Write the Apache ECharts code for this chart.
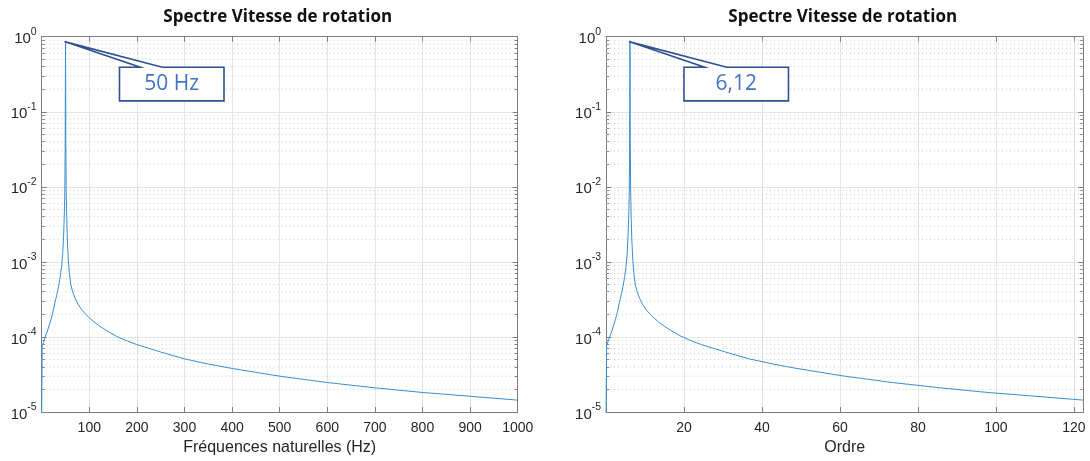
<!DOCTYPE html>
<html><head><meta charset="utf-8">
<script src="https://cdn.jsdelivr.net/npm/echarts@6/dist/echarts.min.js"></script>
<style>html,body{margin:0;padding:0;background:#fff}#c{width:1090px;height:461px}</style>
</head><body><div id="c"></div><script>
// ---- data ----
const freqHz = [0, 1, 4, 8, 12, 16, 20, 24, 28, 32, 36, 39, 42, 44, 46, 47.5, 48.5, 49.3, 50, 50.7, 51.5, 52.5, 54, 56, 58, 61, 65, 70, 76, 84, 92, 100, 110, 122, 135, 157, 180, 200, 250, 300, 350, 400, 500, 600, 700, 800, 900, 1000];
const orders = [0, 0.12, 0.49, 0.98, 1.47, 1.96, 2.45, 2.94, 3.43, 3.92, 4.41, 4.77, 5.14, 5.39, 5.63, 5.81, 5.94, 6.03, 6.12, 6.21, 6.30, 6.43, 6.61, 6.85, 7.10, 7.47, 7.96, 8.57, 9.30, 10.28, 11.26, 12.24, 13.46, 14.93, 16.52, 19.22, 22.03, 24.48, 30.60, 36.72, 42.84, 48.96, 61.20, 73.44, 85.68, 97.92, 110.16, 122.40];
const amplitude = [1e-5, 7.6e-5, 8.6e-5, 1.03e-4, 1.2e-4, 1.45e-4, 1.75e-4, 2.2e-4, 2.9e-4, 3.7e-4, 4.9e-4, 6.4e-4, 9.0e-4, 1.25e-3, 2.2e-3, 4.2e-3, 8.5e-3, 3.2e-2, 0.86, 3.2e-2, 8.5e-3, 4.0e-3, 1.9e-3, 1.05e-3, 7.2e-4, 5.0e-4, 4.0e-4, 3.3e-4, 2.75e-4, 2.3e-4, 2.02e-4, 1.8e-4, 1.58e-4, 1.39e-4, 1.23e-4, 1.02e-4, 8.8e-5, 7.9e-5, 6.3e-5, 5.1e-5, 4.35e-5, 3.8e-5, 3.0e-5, 2.47e-5, 2.1e-5, 1.82e-5, 1.62e-5, 1.44e-5];
const titles = ['Spectre Vitesse de rotation', 'Spectre Vitesse de rotation'];
const xNames = ['Fréquences naturelles (Hz)', 'Ordre'];
const xMax = [1000, 122.4];
const xInterval = [100, 20];
const peakX = [50, 6.12];
const peakAmp = 0.86;
const peakLabels = ['50 Hz', '6,12'];
const yExpMin = -5, yExpMax = 0;

// ---- layout / style ----
const grids = [
  {left: 41.7, top: 36.7, width: 476, height: 376},
  {left: 606.1, top: 36.7, width: 477.2, height: 376}
];
const AX = '#7d7d7d';
const TXT = '#262626';
const LBL_FONT = '"Liberation Sans", Arial, sans-serif';
const minorVals = [];
for (let e = yExpMin; e < yExpMax; e++) for (let m = 2; m <= 9; m++) minorVals.push(m * Math.pow(10, e));
const majorVals = [];
for (let e = yExpMin; e <= yExpMax; e++) majorVals.push(Math.pow(10, e));

const chart = echarts.init(document.getElementById('c'), null, {renderer: 'canvas'});
const xAxes = [], yAxes = [], series = [], titleArr = [];
grids.forEach((g, i) => {
  titleArr.push({text: titles[i], left: g.left + g.width / 2 - 7, top: 4, textAlign: 'center',
    textStyle: {fontFamily: '"Open Sans", sans-serif', fontWeight: 'bold', fontSize: 17, color: '#111'}});
  const xi = xInterval[i];
  xAxes.push({type: 'value', gridIndex: i, position: 'bottom', min: 0, max: xMax[i], interval: xi,
    name: xNames[i], nameLocation: 'middle', nameGap: 28,
    nameTextStyle: {fontFamily: LBL_FONT, fontSize: 16, color: TXT},
    axisLine: {lineStyle: {color: AX}}, axisTick: {inside: true, length: 5, lineStyle: {color: AX}},
    axisLabel: {fontFamily: LBL_FONT, fontSize: 14, color: TXT, margin: 9,
      formatter: v => (v === 0 || Math.abs(v / xi - Math.round(v / xi)) > 1e-6) ? '' : String(v)},
    splitLine: {show: true, lineStyle: {color: '#e4e4e4', width: 1}}});
  xAxes.push({type: 'value', gridIndex: i, position: 'top', min: 0, max: xMax[i], interval: xi,
    axisLine: {show: true, lineStyle: {color: AX}}, axisTick: {show: true, inside: true, length: 5, lineStyle: {color: AX}},
    axisLabel: {show: false}, splitLine: {show: false}});
  const logBase = {type: 'log', logBase: 10, gridIndex: i, min: Math.pow(10, yExpMin), max: Math.pow(10, yExpMax)};
  yAxes.push(Object.assign({}, logBase, {position: 'left',
    axisLine: {show: true, lineStyle: {color: AX}}, axisTick: {show: true, inside: true, length: 5, lineStyle: {color: AX}},
    axisLabel: {margin: 5, formatter: v => '{b|10}{s|' + Math.round(Math.log10(v)) + '}',
      rich: {b: {fontFamily: LBL_FONT, fontSize: 15, color: TXT, lineHeight: 20, verticalAlign: 'bottom'},
             s: {fontFamily: LBL_FONT, fontSize: 10.5, color: TXT, lineHeight: 20, verticalAlign: 'top'}}},
    splitLine: {show: true, lineStyle: {color: '#e4e4e4', width: 1}}}));
  yAxes.push(Object.assign({}, logBase, {position: 'left',
    axisLine: {show: false}, axisTick: {show: true, inside: true, length: 3, customValues: minorVals, lineStyle: {color: AX}},
    axisLabel: {show: false}, splitLine: {show: false}}));
  yAxes.push(Object.assign({}, logBase, {position: 'right',
    axisLine: {show: true, lineStyle: {color: AX}}, axisTick: {show: true, inside: true, length: 5, customValues: majorVals, lineStyle: {color: AX}},
    axisLabel: {show: false}, splitLine: {show: false}}));
  yAxes.push(Object.assign({}, logBase, {position: 'right',
    axisLine: {show: false}, axisTick: {show: true, inside: true, length: 3, customValues: minorVals, lineStyle: {color: AX}},
    axisLabel: {show: false}, splitLine: {show: false}}));
  // dotted minor grid lines (one horizontal line per minor log tick)
  minorVals.forEach(v => {
    series.push({type: 'line', xAxisIndex: 2 * i, yAxisIndex: 4 * i, data: [[0, v], [xMax[i], v]],
      showSymbol: false, silent: true, z: 1, lineStyle: {color: '#c8c8c8', type: [1, 3], width: 1}});
  });
  const xs = i === 0 ? freqHz : orders;
  const pts = xs.map((x, k) => [x, amplitude[k]]);
  series.push({type: 'line', xAxisIndex: 2 * i, yAxisIndex: 4 * i, data: pts, showSymbol: false, z: 3,
    lineStyle: {color: '#3a8ed1', width: 1}});
});

chart.setOption({animation: false, backgroundColor: '#fff', title: titleArr, grid: grids,
  xAxis: xAxes, yAxis: yAxes, series: series});

// callouts anchored to the peak of each spectrum
const graphics = [];
peakX.forEach((px, i) => {
  const tip = chart.convertToPixel({xAxisIndex: 2 * i, yAxisIndex: 4 * i}, [px, peakAmp]);
  const tx = tip[0] - 1, ty = tip[1];
  const top = ty + 25.6, bot = ty + 59.3, L = tx + 55, R = tx + 159.5;
  graphics.push({type: 'polygon', z: 100,
    shape: {points: [[L, top], [tx + 75.7, top], [tx, ty], [tx + 97.8, top], [R, top], [R, bot], [L, bot]]},
    style: {fill: '#fff', stroke: '#2F528F', lineWidth: 1.6}});
  graphics.push({type: 'text', z: 101, x: (L + R) / 2, y: (top + bot) / 2,
    style: {text: peakLabels[i], fill: '#4472C4', font: '21px "Open Sans", sans-serif', align: 'center', verticalAlign: 'middle'}});
});
chart.setOption({graphic: graphics});
</script></body></html>
